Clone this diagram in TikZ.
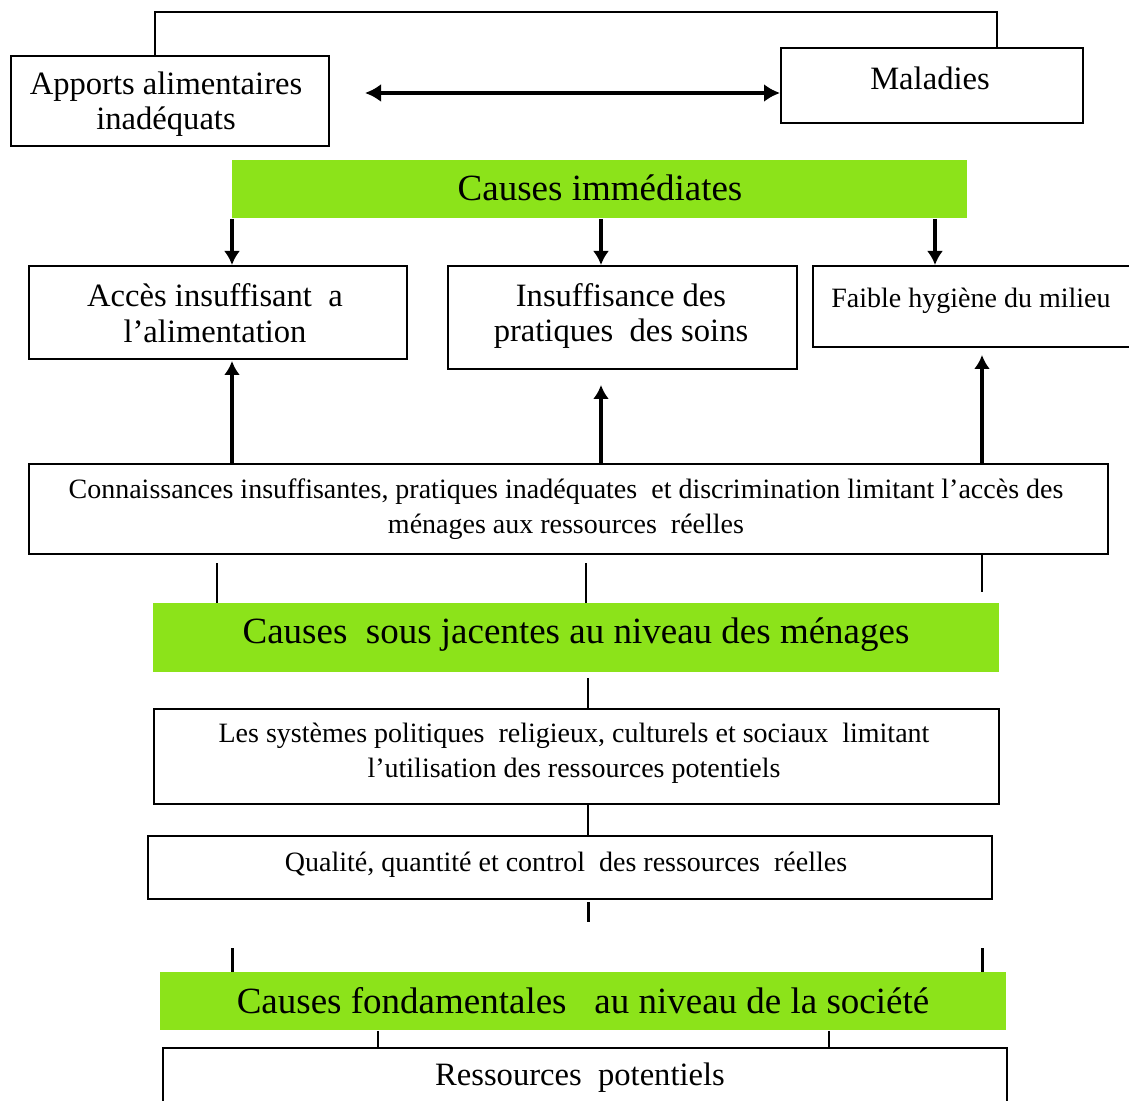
\documentclass[tikz,border=0pt]{standalone}
\usepackage{fontspec}
\setmainfont{Liberation Serif}
\usetikzlibrary{arrows.meta}
\definecolor{lime}{RGB}{140,227,26}
\begin{document}
\begin{tikzpicture}[x=0.5pt,y=-0.5pt,
  box/.style={draw,line width=1.1pt,inner sep=0pt,anchor=north west},
  gbar/.style={fill=lime,inner sep=0pt,anchor=north west},
  txt/.style={inner sep=0pt,align=center},
  big/.style={font=\fontsize{18.5}{22}\selectfont},
  mid/.style={font=\fontsize{16.3}{17.8}\selectfont},
  small/.style={font=\fontsize{14}{17.5}\selectfont},
  conn/.style={line width=0.75pt},
  heavy/.style={line width=1.5pt},
  uparr/.style={line width=2.2pt,-{Latex[length=7pt,width=8pt]}},
  dblarr/.style={line width=2pt,{Latex[length=8pt,width=9pt]}-{Latex[length=8pt,width=9pt]}}
]
\useasboundingbox (0,0) rectangle (1129,1101);
\clip (0,0) rectangle (1129,1101);

% boxes
\node[box,minimum width=159pt,minimum height=45pt] (apports) at (10,55) {};
\node[box,minimum width=151pt,minimum height=37.5pt] (maladies) at (780,47) {};
\node[gbar,minimum width=367.5pt,minimum height=29pt] (green1) at (232,160) {};
\node[box,minimum width=189pt,minimum height=46.5pt] (acces) at (28,265) {};
\node[box,minimum width=174.5pt,minimum height=51.5pt] (insuff) at (447,265) {};
\node[box,minimum width=170pt,minimum height=40.5pt] (faible) at (812,265) {};
\node[box,minimum width=539.5pt,minimum height=45pt] (connbox) at (28,463) {};
\node[gbar,minimum width=423pt,minimum height=34.5pt] (green2) at (153,603) {};
\node[box,minimum width=422.5pt,minimum height=47.5pt] (sys) at (153,708) {};
\node[box,minimum width=422pt,minimum height=31.5pt] (qual) at (147,835) {};
\node[gbar,minimum width=423pt,minimum height=29pt] (green3) at (160,972) {};
\node[box,minimum width=422pt,minimum height=45pt] (res) at (162,1047) {};

% texts
\node[txt,mid] (tapports) at (166,104) {Apports alimentaires\\inadéquats};
\node[txt,mid] (tmal) at (930,78) {Maladies};
\node[txt,big] (tg1) at (600,188) {Causes immédiates};
\node[txt,mid] (tacces) at (215,313) {Accès insuffisant\ \ a\\l’alimentation};
\node[txt,mid] (tinsuff) at (621,316) {Insuffisance des\\pratiques\ \ des soins};
\node[txt,small,anchor=west] (tfaible) at (831,301) {Faible hygiène du milieu};
\node[txt,small] (tconn) at (566,509) {Connaissances insuffisantes, pratiques inadéquates\ \ et discrimination limitant l’accès des\\ménages aux ressources\ \ réelles};
\node[txt,big] (tg2) at (576,635) {Causes\ \ sous jacentes au niveau des ménages};
\node[txt,small] (tsys) at (574,753) {Les systèmes politiques\ \ religieux, culturels et sociaux\ \ limitant\\l’utilisation des ressources potentiels};
\node[txt,small] (tqual) at (566,865) {Qualité, quantité et control\ \ des ressources\ \ réelles};
\node[txt,big] (tg3) at (583,1001) {Causes fondamentales\ \ \ au niveau de la société};
\node[txt,mid] (tres) at (580,1078) {Ressources\ \ potentiels};

% top bracket
\coordinate (tl) at (155,12);
\coordinate (tr) at (997,12);
\draw[conn] (tl |- apports.north) -- (tl) -- (tr) -- (tr |- maladies.north);

% double arrow
\coordinate (da) at (365,93);
\draw[dblarr] (da) -- (da -| maladies.west);

% down arrows from Causes immediates
\coordinate (c1) at (232,0);
\coordinate (c2) at (601,0);
\coordinate (c3) at (935,0);
\draw[uparr] (c1 |- green1.south) -- (c1 |- acces.north);
\draw[uparr] (c2 |- green1.south) -- (c2 |- insuff.north);
\draw[uparr] (c3 |- green1.south) -- (c3 |- faible.north);

% up arrows
\coordinate (u1) at (232,361);
\coordinate (u2) at (601,385);
\coordinate (u3) at (982,355);
\draw[uparr] (u1 |- connbox.north) -- (u1);
\draw[uparr] (u2 |- connbox.north) -- (u2);
\draw[uparr] (u3 |- connbox.north) -- (u3);

% lines to green2
\coordinate (v1) at (217,563);
\coordinate (v2) at (586,563);
\coordinate (v3) at (982,592);
\draw[conn] (v1) -- (v1 |- green2.north);
\draw[conn] (v2) -- (v2 |- green2.north);
\draw[conn] (v3 |- connbox.south) -- (v3);

% central spine
\coordinate (v4) at (588,678);
\draw[conn] (v4) -- (v4 |- sys.north);
\draw[conn] (v4 |- sys.south) -- (v4 |- qual.north);
\coordinate (q1) at (588,902);
\coordinate (q2) at (588,922);
\draw[heavy] (q1) -- (q2);

% lines to green3
\coordinate (w1) at (232,948);
\coordinate (w2) at (982,948);
\draw[heavy] (w1) -- (w1 |- green3.north);
\draw[heavy] (w2) -- (w2 |- green3.north);

% green3 to res
\coordinate (r1) at (378,0);
\coordinate (r2) at (829,0);
\draw[line width=1pt] (r1 |- green3.south) -- (r1 |- res.north);
\draw[line width=1pt] (r2 |- green3.south) -- (r2 |- res.north);
\end{tikzpicture}
\end{document}
